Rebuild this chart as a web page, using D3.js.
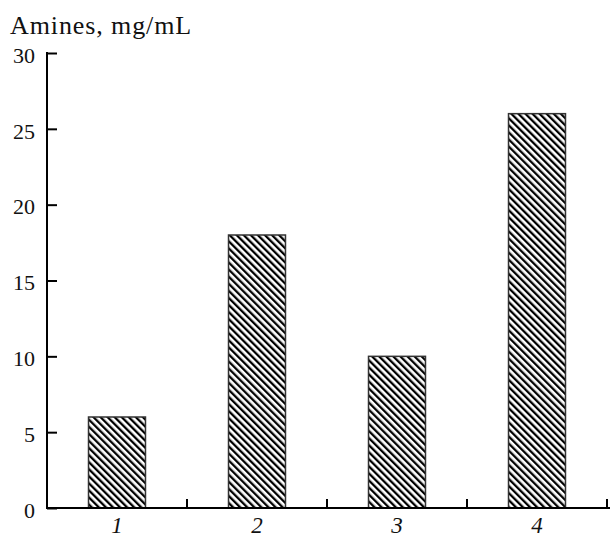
<!DOCTYPE html>
<html><head><meta charset="utf-8">
<script src="https://cdn.jsdelivr.net/npm/d3@7"></script>
<style>
body{margin:0;background:#fff;}
svg{display:block;}
svg text{font-family:"Liberation Serif","DejaVu Serif","Times New Roman",serif;fill:#111;}
</style></head>
<body>
<svg id="chart" width="610" height="540"></svg>
<script>
const categories = ["1","2","3","4"];
const values = [6, 18, 10, 26];
const yTicks = [0, 5, 10, 15, 20, 25, 30];
const yTitle = "Amines, mg/mL";

(function(){
const FONT = '"Liberation Serif","DejaVu Serif","Times New Roman",serif';
const svg = d3.select("#chart");
const mLeft = 47, mRight = 607, mTop = 53, mBottom = 508;

const defs = svg.append("defs");
const pat = defs.append("pattern")
  .attr("id","hatch").attr("patternUnits","userSpaceOnUse")
  .attr("width",5).attr("height",5)
  .attr("patternTransform","rotate(-45)");
pat.append("rect").attr("width",5).attr("height",5).attr("fill","#fff");
pat.append("rect").attr("x",0).attr("y",0).attr("width",2.3).attr("height",5).attr("fill","#000");

const x = d3.scaleBand().domain(categories).range([mLeft, mRight])
  .paddingInner(0.593).paddingOuter(0.2965).align(0.5);
const y = d3.scaleLinear().domain([0,30]).range([mBottom, mTop]);

// bars
svg.append("g").selectAll("rect").data(values).join("rect")
  .attr("x",(d,i)=>x(categories[i]))
  .attr("y",d=>y(d))
  .attr("width",x.bandwidth())
  .attr("height",d=>y(0)-y(d))
  .attr("fill","url(#hatch)")
  .attr("stroke","#333").attr("stroke-width",1.5);

// y axis
const yAxis = d3.axisLeft(y).tickValues(yTicks).tickSize(-10).tickPadding(12).tickFormat(d3.format("d"));
const gy = svg.append("g").attr("transform",`translate(${mLeft},0)`).call(yAxis);
gy.attr("font-family",null).attr("font-size",null);
gy.select(".domain").remove();
gy.selectAll(".tick line").attr("stroke","#000").attr("stroke-width",2);
gy.selectAll(".tick text").attr("dy","0.42em")
  .style("font-family",FONT).style("font-size","22px").attr("fill","#111");
svg.append("line").attr("x1",mLeft).attr("x2",mLeft).attr("y1",mTop-1).attr("y2",mBottom+1)
  .attr("stroke","#000").attr("stroke-width",2);

// x axis
svg.append("line").attr("x1",mLeft-1).attr("x2",610).attr("y1",mBottom).attr("y2",mBottom)
  .attr("stroke","#000").attr("stroke-width",2);
const bounds = categories.map(c => x(c) - x.step()*x.paddingInner()/2 + x.step());
svg.append("g").selectAll("line").data(bounds).join("line")
  .attr("x1",d=>d).attr("x2",d=>d).attr("y1",mBottom).attr("y2",mBottom-9)
  .attr("stroke","#000").attr("stroke-width",2);
const xAxis = d3.axisBottom(x).tickSize(0).tickPadding(0);
const gx = svg.append("g").attr("transform",`translate(0,${mBottom})`).call(xAxis);
gx.attr("font-family",null).attr("font-size",null);
gx.select(".domain").remove();
gx.selectAll(".tick text").attr("y",25).attr("dy",0)
  .style("font-family",FONT).style("font-size","23px").style("font-style","italic").attr("fill","#111");

// title
svg.append("text").attr("x",10).attr("y",34)
  .style("font-family",FONT).style("font-size","26px").style("letter-spacing","0.9px").text(yTitle);
})();
</script>
</body></html>
